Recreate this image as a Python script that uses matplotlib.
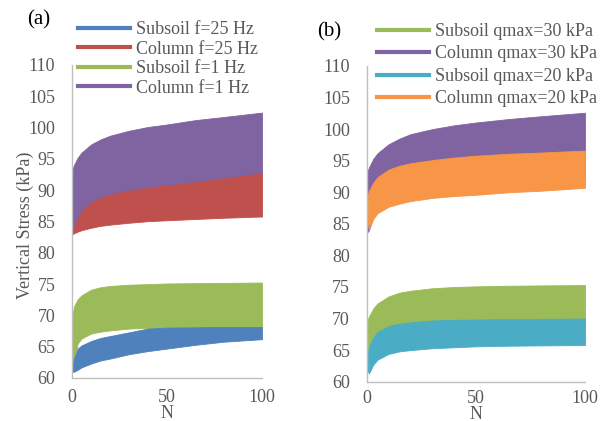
import matplotlib
matplotlib.use("Agg")
import matplotlib.pyplot as plt
from matplotlib.lines import Line2D

plt.rcParams['font.family'] = ['Liberation Serif', 'DejaVu Serif']

# Cycle number grid at which the envelopes were read
N = [0, 1, 3, 5, 10, 15, 20, 30, 40, 50, 65, 80, 100]

# ---- Panel (a): frequency effect (upper / lower envelopes, kPa) ----
col_f1_up = [93.0, 94.0, 95.2, 96.0, 97.3, 98.1, 98.7, 99.5, 100.1, 100.5, 101.2, 101.7, 102.4]
col_f1_lo = [83.0, 83.5, 85.0, 86.0, 87.8, 88.6, 89.1, 89.7, 90.2, 90.6, 91.1, 91.7, 92.5]
col_f25_up = [83.2, 84.0, 85.5, 86.6, 88.1, 88.8, 89.3, 89.9, 90.4, 90.75, 91.3, 91.9, 92.7]
col_f25_lo = [83.0, 83.1, 83.4, 83.6, 84.0, 84.3, 84.5, 84.8, 85.05, 85.2, 85.4, 85.6, 85.8]
sub_f1_up = [69.5, 71.4, 72.6, 73.2, 74.1, 74.5, 74.7, 74.9, 75.0, 75.1, 75.15, 75.2, 75.25]
sub_f1_lo = [62.0, 62.5, 65.5, 66.3, 67.1, 67.4, 67.6, 67.9, 68.0, 68.05, 68.1, 68.15, 68.15]
sub_f25_up = [61.5, 63.0, 64.7, 65.2, 65.9, 66.4, 66.7, 67.3, 67.9, 68.05, 68.1, 68.15, 68.15]
sub_f25_lo = [61.0, 61.0, 61.3, 61.7, 62.3, 62.8, 63.1, 63.8, 64.3, 64.7, 65.3, 65.8, 66.2]

# ---- Panel (b): load amplitude effect ----
col_q30_up = [93.0, 93.9, 95.3, 96.2, 97.6, 98.5, 99.2, 100.0, 100.6, 101.05, 101.6, 102.05, 102.6]
col_q30_lo = [83.5, 84.0, 86.0, 87.5, 89.0, 89.8, 90.3, 90.8, 91.2, 91.5, 91.8, 92.0, 92.3]
col_q20_up = [89.0, 90.2, 91.5, 92.4, 93.6, 94.2, 94.6, 95.1, 95.5, 95.8, 96.1, 96.3, 96.6]
col_q20_lo = [86.5, 84.2, 85.8, 86.7, 87.7, 88.2, 88.6, 89.1, 89.4, 89.6, 90.0, 90.25, 90.7]
sub_q30_up = [69.5, 70.3, 71.6, 72.4, 73.5, 74.1, 74.4, 74.8, 75.0, 75.1, 75.2, 75.25, 75.3]
sub_q30_lo = [64.5, 65.5, 67.0, 67.6, 68.0, 68.1, 68.2, 68.2, 68.2, 68.2, 68.2, 68.2, 68.2]
sub_q20_up = [63.5, 65.5, 67.0, 67.9, 68.8, 69.2, 69.4, 69.7, 69.8, 69.85, 69.9, 69.95, 70.0]
sub_q20_lo = [62.0, 61.3, 62.7, 63.5, 64.4, 64.8, 65.0, 65.3, 65.45, 65.6, 65.7, 65.75, 65.8]

yticks = [60, 65, 70, 75, 80, 85, 90, 95, 100, 105, 110]
xticks = [0, 50, 100]

BLUE = '#4f81bd'
RED = '#c0504d'
GREEN = '#9bbb59'
PURPLE = '#8064a2'
CYAN = '#4bacc6'
ORANGE = '#f79646'
TXT = '#595959'
AX = '#bfbfbf'
FS = 13

W, H = 608, 421
fig = plt.figure(figsize=(W / 100, H / 100), dpi=100)

def px_axes(l, r, t, b):
    return fig.add_axes([l / W, 1 - b / H, (r - l) / W, (b - t) / H])

axa = px_axes(72, 262, 65, 378)
axb = px_axes(366.7, 585, 66, 381.7)

def band(ax, up, lo, c):
    ax.fill_between(N, lo, up, color=c, linewidth=0.6, edgecolor=c)

band(axa, col_f1_up, col_f1_lo, PURPLE)
band(axa, col_f25_up, col_f25_lo, RED)
band(axa, sub_f1_up, sub_f1_lo, GREEN)
band(axa, sub_f25_up, sub_f25_lo, BLUE)

band(axb, col_q30_up, col_q30_lo, PURPLE)
band(axb, col_q20_up, col_q20_lo, ORANGE)
band(axb, sub_q30_up, sub_q30_lo, GREEN)
band(axb, sub_q20_up, sub_q20_lo, CYAN)

for ax, top_px, bot_px, xpad, nlab in ((axa, 65, 378, 8.0, 35.0), (axb, 66, 381.7, 6.0, 32.5)):
    ax.set_xlim(0, 100)
    ax.set_ylim(60, 110)
    ax.set_yticks(yticks)
    ax.set_xticks(xticks)
    for s in ('top', 'right'):
        ax.spines[s].set_visible(False)
    for s in ('left', 'bottom'):
        ax.spines[s].set_color(AX)
        ax.spines[s].set_linewidth(1.0)
    ax.tick_params(axis='both', length=0, labelsize=FS, colors=TXT)
    ax.tick_params(axis='y', pad=12)
    ax.tick_params(axis='x', pad=xpad)
    ax.set_xlabel('N', fontsize=FS, color=TXT)
    ax.xaxis.label.set_va('center')
    ax.xaxis.set_label_coords(0.5, -nlab / (bot_px - top_px))

axa.set_ylabel('Vertical Stress (kPa)', fontsize=FS, color=TXT)
axa.yaxis.label.set_va('center')
axa.yaxis.set_label_coords((25 - 72) / 190, 0.5 - 4 / 313)

leg_kw = dict(loc='upper left', frameon=False, fontsize=FS, handlelength=2.9,
              handletextpad=0.3, borderpad=0, borderaxespad=0,
              labelcolor=TXT)

ha = [Line2D([], [], color=BLUE, lw=3), Line2D([], [], color=RED, lw=3),
      Line2D([], [], color=GREEN, lw=3), Line2D([], [], color=PURPLE, lw=3)]
la = ['Subsoil f=25 Hz', 'Column f=25 Hz', 'Subsoil f=1 Hz', 'Column f=1 Hz']
fig.legend(ha, la, bbox_to_anchor=(78 / W, 1 - 21 / H), labelspacing=0.14, **leg_kw)

hb = [Line2D([], [], color=GREEN, lw=3), Line2D([], [], color=PURPLE, lw=3),
      Line2D([], [], color=CYAN, lw=3), Line2D([], [], color=ORANGE, lw=3)]
lb = ['Subsoil qmax=30 kPa', 'Column qmax=30 kPa', 'Subsoil qmax=20 kPa', 'Column qmax=20 kPa']
fig.legend(hb, lb, bbox_to_anchor=(377 / W, 1 - 23 / H), labelspacing=0.30, **leg_kw)

fig.text(27 / W, 1 - 20 / H, '(a)', fontsize=15, color='black', va='center', ha='left')
fig.text(317 / W, 1 - 32 / H, '(b)', fontsize=15, color='black', va='center', ha='left')

fig.savefig('out.png', dpi=100)
